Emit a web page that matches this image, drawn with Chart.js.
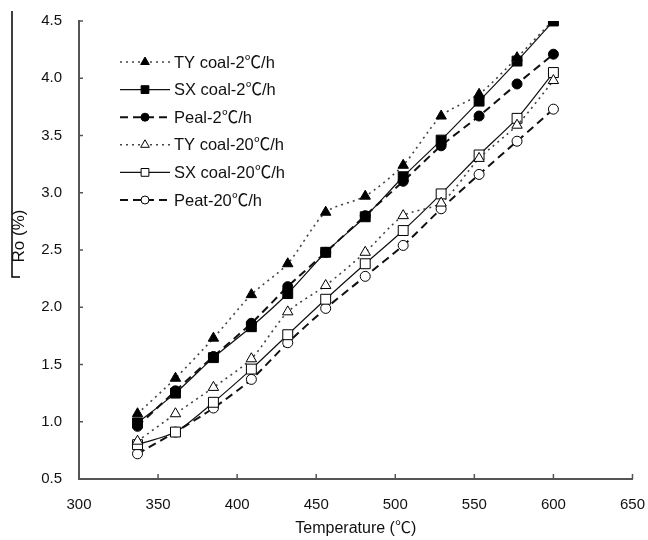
<!DOCTYPE html>
<html>
<head>
<meta charset="utf-8">
<script src="https://cdn.jsdelivr.net/npm/chart.js@4.4.1/dist/chart.umd.min.js"></script>
<style>
  body { margin: 0; background: #fff; }
  #wrap { width: 648px; height: 540px; position: relative; }
</style>
</head>
<body>
<div id="wrap"><canvas id="rChart"></canvas></div>
<script>
// Ro vs temperature, two heating rates
const temps = [337, 361, 385, 409, 432, 456, 481, 505, 529, 553, 577, 600];
const ty2   = [1.07, 1.38, 1.73, 2.11, 2.38, 2.83, 2.97, 3.24, 3.67, 3.86, 4.18, 4.51];
const sx2   = [0.99, 1.25, 1.56, 1.83, 2.12, 2.48, 2.79, 3.14, 3.46, 3.80, 4.15, 4.50];
const peal2 = [0.96, 1.27, 1.57, 1.86, 2.18, 2.48, 2.80, 3.10, 3.41, 3.67, 3.95, 4.21];
const ty20  = [0.83, 1.07, 1.30, 1.55, 1.96, 2.19, 2.48, 2.80, 2.91, 3.30, 3.59, 3.98];
const sx20  = [0.80, 0.91, 1.17, 1.46, 1.76, 2.07, 2.38, 2.67, 2.99, 3.33, 3.65, 4.05];
const peat20 = [0.72, 0.91, 1.12, 1.37, 1.69, 1.99, 2.27, 2.54, 2.86, 3.16, 3.45, 3.73];
const seriesNames = ["TY coal-2℃/h", "SX coal-2℃/h", "Peal-2℃/h", "TY coal-20℃/h", "SX coal-20℃/h", "Peat-20℃/h"];
const yTitle = "Ro (%)";
const xTitle = "Temperature (℃)";

const FONT = "'Liberation Sans', Arial, 'Noto Sans CJK SC', sans-serif";

function pts(vals) {
  return vals.map(function(v, i) { return {x: temps[i], y: v}; });
}

// style per series: dotted / solid / dashed, filled or open markers
const styles = [
  {dash: [2, 4], width: 1.6, color: '#444', pstyle: 'triangle', r: 6, lr: 5,   fill: '#000'},
  {dash: [],     width: 1.2, color: '#111', pstyle: 'rect',     r: 7, lr: 5.5, fill: '#000'},
  {dash: [8, 5], width: 2,   color: '#111', pstyle: 'circle',   r: 5, lr: 4,   fill: '#000'},
  {dash: [2, 4], width: 1.6, color: '#444', pstyle: 'triangle', r: 6, lr: 5,   fill: '#fff'},
  {dash: [],     width: 1.2, color: '#111', pstyle: 'rect',     r: 7, lr: 5.5, fill: '#fff'},
  {dash: [8, 5], width: 2,   color: '#111', pstyle: 'circle',   r: 5, lr: 4,   fill: '#fff'}
];
const allVals = [ty2, sx2, peal2, ty20, sx20, peat20];

const datasets = allVals.map(function(vals, k) {
  const s = styles[k];
  return {
    label: seriesNames[k],
    data: pts(vals),
    borderColor: s.color,
    borderWidth: s.width,
    borderDash: s.dash,
    tension: 0.25,
    pointStyle: s.pstyle,
    pointRadius: s.r,
    pointBackgroundColor: s.fill,
    pointBorderColor: '#000',
    pointBorderWidth: 1,
    fill: false
  };
});

// inward tick marks, y title, in-plot legend, and the stray bracket by the y title
const extras = {
  id: 'extras',
  afterDraw: function(chart) {
    const ctx = chart.ctx;
    const xs = chart.scales.x, ys = chart.scales.y;
    const a = chart.chartArea;
    ctx.save();
    ctx.strokeStyle = '#555';
    ctx.lineWidth = 1.5;
    xs.ticks.forEach(function(t) {
      const px = xs.getPixelForValue(t.value);
      ctx.beginPath(); ctx.moveTo(px, a.bottom); ctx.lineTo(px, a.bottom - 5); ctx.stroke();
    });
    ys.ticks.forEach(function(t) {
      const py = ys.getPixelForValue(t.value);
      ctx.beginPath(); ctx.moveTo(a.left, py); ctx.lineTo(a.left + 4, py); ctx.stroke();
    });

    ctx.strokeStyle = '#000';
    ctx.lineWidth = 1.5;
    ctx.beginPath(); ctx.moveTo(12, 11); ctx.lineTo(12, 277); ctx.lineTo(20, 277); ctx.stroke();

    // y title
    ctx.save();
    ctx.translate(19, 236);
    ctx.rotate(-Math.PI / 2);
    ctx.font = '17px ' + FONT;
    ctx.fillStyle = '#111';
    ctx.textAlign = 'center';
    ctx.textBaseline = 'middle';
    ctx.fillText(yTitle, 0, 0);
    ctx.restore();

    // legend
    const lx = a.left + 41, ly = a.top + 41, step = 27.6;
    ctx.font = '16.5px ' + FONT;
    ctx.textBaseline = 'middle';
    ctx.textAlign = 'left';
    chart.data.datasets.forEach(function(ds, k) {
      const s = styles[k];
      const y = ly + k * step;
      ctx.strokeStyle = s.color;
      ctx.lineWidth = s.width;
      ctx.setLineDash(s.dash);
      ctx.beginPath(); ctx.moveTo(lx, y); ctx.lineTo(lx + 50, y); ctx.stroke();
      ctx.setLineDash([]);
      ctx.fillStyle = s.fill;
      ctx.strokeStyle = '#000';
      ctx.lineWidth = 1;
      Chart.helpers.drawPoint(ctx, {pointStyle: s.pstyle, radius: s.lr, rotation: 0, borderWidth: 1}, lx + 25, y);
      ctx.fillStyle = '#111';
      ctx.fillText(ds.label, lx + 54, y + 1);
    });
    ctx.restore();
  }
};

const CHART = document.getElementById('rChart');
let lineChart = new Chart(CHART, {
  type: 'line',
  data: { datasets: datasets },
  options: {
    responsive: true,
    maintainAspectRatio: false,
    animation: false,
    layout: { padding: { left: 0, right: 15, top: 21, bottom: 0 } },
    plugins: { legend: { display: false }, tooltip: { enabled: false } },
    scales: {
      x: {
        type: 'linear',
        min: 300, max: 650,
        border: { color: '#555', width: 2 },
        grid: { drawOnChartArea: false, drawTicks: true, tickLength: 14, color: 'rgba(0,0,0,0)' },
        ticks: { stepSize: 50, padding: 3, color: '#111', font: { family: FONT, size: 15 } },
        title: { display: true, text: xTitle, color: '#111', padding: { top: 0, bottom: 2 }, font: { family: FONT, size: 16 } },
        afterFit: function(scale) { scale.height = 61; }
      },
      y: {
        min: 0.5, max: 4.5,
        border: { color: '#555', width: 2 },
        grid: { drawOnChartArea: false, drawTicks: true, tickLength: 14, color: 'rgba(0,0,0,0)' },
        ticks: { stepSize: 0.5, padding: 3, color: '#111', font: { family: FONT, size: 15 },
          callback: function(v) { return v.toFixed(1); } },
        afterFit: function(scale) { scale.width = 79; }
      }
    }
  },
  plugins: [extras]
});
</script>
</body>
</html>
